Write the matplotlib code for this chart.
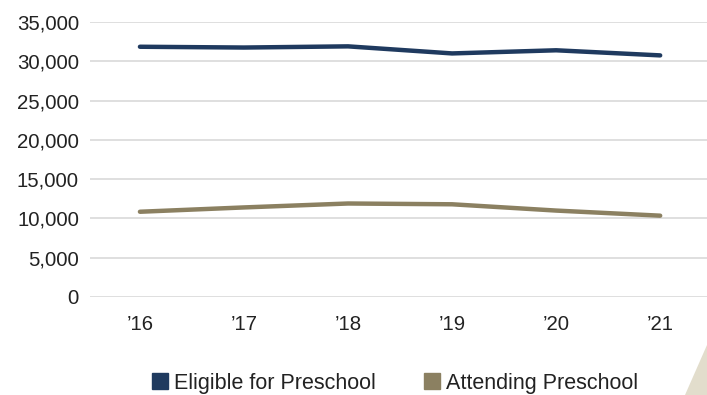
import matplotlib.pyplot as plt
from matplotlib.patches import Polygon, Patch

years = ["\u201916", "\u201917", "\u201918", "\u201919", "\u201920", "\u201921"]
eligible = [31850, 31750, 31900, 31000, 31400, 30750]
attending = [10850, 11400, 11900, 11800, 11000, 10350]

navy = "#1f3a5f"
tan = "#8b8061"

plt.rcParams['font.family'] = ['Liberation Sans', 'DejaVu Sans']

fig = plt.figure(figsize=(7.07, 3.95), dpi=100)
ax = fig.add_axes([90 / 707, 1 - 297 / 395, 617 / 707, 275 / 395])

x = range(len(years))
ax.plot(x, eligible, color=navy, lw=3.2, solid_capstyle='round', solid_joinstyle='round')
ax.plot(x, attending, color=tan, lw=3.2, solid_capstyle='round', solid_joinstyle='round')

ax.set_ylim(0, 35000)
ax.set_xlim(-0.48, 5.45)
ax.set_yticks(range(0, 35001, 5000))
ax.set_yticklabels([f"{v:,}" for v in range(0, 35001, 5000)])
ax.set_xticks(list(x))
ax.set_xticklabels(years)
ax.tick_params(length=0, labelsize=14.7, colors='#222222')
ax.tick_params(axis='x', pad=13)
ax.tick_params(axis='y', pad=8)
ax.grid(axis='y', color='#d9d9d9', lw=1.2)
ax.set_axisbelow(True)
for s in ax.spines.values():
    s.set_visible(False)

handles = [Patch(color=navy, label='Eligible for Preschool'),
           Patch(color=tan, label='Attending Preschool')]
fig.legend(handles=handles, loc='center', bbox_to_anchor=(395 / 707, 1 - 383 / 395),
           ncol=2, frameon=False, fontsize=15.5, handlelength=0.75, handleheight=0.75,
           handletextpad=0.3, columnspacing=2.2, labelcolor='#222222')

# corner decoration
tri = Polygon([(707 / 707, 1 - 345 / 395), (1.0, 0.0), (685 / 707, 0.0)],
              closed=True, transform=fig.transFigure, color='#e2ddcc', lw=0)
fig.patches.append(tri)

fig.savefig('out.png', dpi=100)
